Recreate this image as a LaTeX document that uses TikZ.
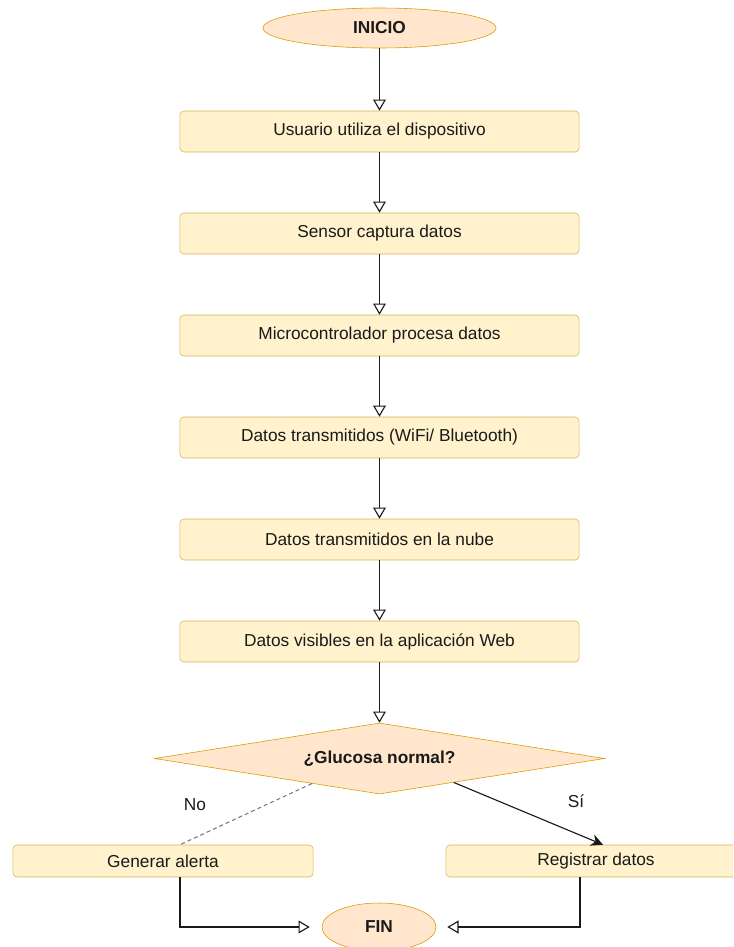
\documentclass[tikz,border=0pt]{standalone}
\usepackage{fontspec}
\setmainfont{Liberation Sans}
\usetikzlibrary{shapes.geometric,arrows.meta,calc}
\definecolor{boxfill}{HTML}{FFF2CC}
\definecolor{boxline}{HTML}{D6B656}
\definecolor{termfill}{HTML}{FFE6CC}
\definecolor{termline}{HTML}{D79B00}
\definecolor{ink}{HTML}{1A1A1A}
\tikzstyle{process}=[draw=boxline, fill=boxfill, rectangle, rounded corners=0.1cm, minimum width=9.975cm, minimum height=1.025cm, text=ink, thin, font=\fontsize{12.3}{14}\selectfont]
\tikzstyle{terminal}=[draw=termline, fill=termfill, ellipse, text=ink, thin, font=\fontsize{12.3}{14}\selectfont\bfseries]
\tikzstyle{decision}=[draw=termline, fill=termfill, diamond, aspect=6, inner sep=0pt, minimum width=11.25cm, minimum height=1.775cm, text=ink, thin, font=\fontsize{12.3}{14}\selectfont\bfseries]
\tikzstyle{tag}=[text=ink, font=\fontsize{12.3}{14}\selectfont]
\tikzstyle{flow}=[draw=ink, -{Triangle[open, length=0.28cm, width=0.32cm]}]

\begin{document}
\begin{tikzpicture}[auto, thick, x=0.025cm, y=-0.025cm]
  \clip (0,0) rectangle (733,947);
  \node[terminal, minimum width=5.825cm, minimum height=1cm] (I1) at (379.5,28) {INICIO};

  \node[process] (P1) at (379.5,131.5) {Usuario utiliza el dispositivo};
  \node[process] (P2) at (379.5,233.5) {Sensor captura datos};
  \node[process] (P3) at (379.5,335.5) {Microcontrolador procesa datos};
  \node[process] (P4) at (379.5,437.5) {Datos transmitidos (WiFi/ Bluetooth)};
  \node[process] (P5) at (379.5,539.5) {Datos transmitidos en la nube};
  \node[process] (P6) at (379.5,641.5) {Datos visibles en la aplicación Web};
  \draw[flow] (I1) -- (P1);
  \draw[flow] (P1) -- (P2);
  \draw[flow] (P2) -- (P3);
  \draw[flow] (P3) -- (P4);
  \draw[flow] (P4) -- (P5);
  \draw[flow] (P5) -- (P6);

  \node[decision] (D1) at (379.5,758.5) {¿Glucosa normal?};
  \draw[flow] (P6) -- (D1);

  \node[process, minimum width=7.5cm, minimum height=0.8cm] (G1) at (163,861) {Generar alerta};
  \node[process, minimum width=7.5cm, minimum height=0.8cm] (R1) at (596,861) {Registrar datos};
  \draw[gray, dash pattern=on 0.1cm off 0.075cm] ($(D1.south)!0.3!(D1.west)$) -- ([xshift=0.425cm]G1.north);
  \draw[ink, -{Stealth[length=0.3cm, width=0.3cm]}] ($(D1.south)!0.33!(D1.east)$) -- ([xshift=0.175cm]R1.north);

  \node[terminal, minimum width=2.85cm, minimum height=1.2cm] (F1) at (379,927) {FIN};
  \draw[flow, shorten >=0.3cm] ([xshift=0.425cm]G1.south) |- (F1.west);
  \draw[flow, shorten >=0.275cm] ([xshift=-0.4cm]R1.south) |- (F1.east);

  \node[tag] (N1) at (195,805) {No};
  \node[tag] (S1) at (576,801) {Sí};
\end{tikzpicture}
\end{document}
